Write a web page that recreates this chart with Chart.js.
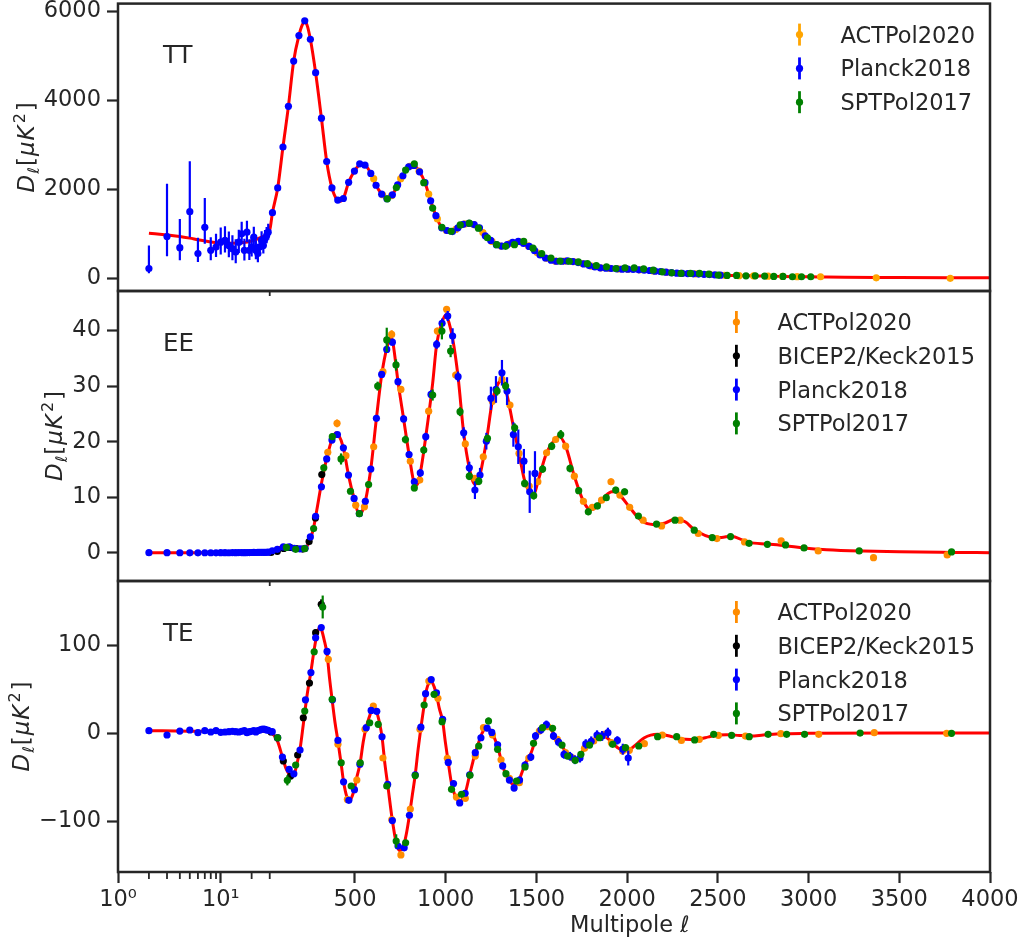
<!DOCTYPE html>
<html>
<head>
<meta charset="utf-8">
<script src="https://cdn.jsdelivr.net/npm/chart.js"></script>
<style>
html, body { margin: 0; padding: 0; background: #fff; }
#wrap { position: relative; width: 1028px; height: 943px; overflow: hidden; }
#wrap canvas { position: absolute; left: 0; }
</style>
</head>
<body>
<div id="wrap">
  <canvas id="cTT" width="1028" height="300" style="top:0px"></canvas>
  <canvas id="cEE" width="1028" height="308" style="top:282px"></canvas>
  <canvas id="cTE" width="1028" height="371" style="top:572px"></canvas>
</div>
<script>
// ---------- axes ----------
const ELL_MIN = 1, ELL_MAX = 4000;
const X_TICKS = [1, 10, 500, 1000, 1500, 2000, 2500, 3000, 3500, 4000];
const X_TICK_LABELS = ['10\u2070', '10\u00b9', '500', '1000', '1500', '2000', '2500', '3000', '3500', '4000'];
const X_MINOR_TICKS = [2, 3, 4, 5, 6, 7, 8, 9, 20, 30];
const TT_Y_TICKS = [0, 2000, 4000, 6000];
const EE_Y_TICKS = [0, 10, 20, 30, 40];
const TE_Y_TICKS = [-100, 0, 100];
const TT_Y_RANGE = [-283, 6175];
const EE_Y_RANGE = [-5.04, 47.1];
const TE_Y_RANGE = [-157.4, 172.9];

const LOW_ELL = [2, 3, 4, 5, 6, 7, 8, 9, 10, 11, 12, 13, 14, 15, 16, 17, 18, 19, 20, 21, 22, 23, 24, 25, 26, 27, 28, 29];

// ---------- TT ----------
const TT_CURVE_ELL = [2, 3, 4, 5, 6, 8, 10, 13, 16, 20, 25, 30, 45, 74, 103, 133, 162, 191, 210, 222, 235, 254, 283, 315, 344, 373, 400, 418, 436, 465, 497, 526, 545, 555, 587, 616, 647, 676, 706, 735, 764, 796, 815, 825, 856, 886, 917, 946, 978, 1007, 1037, 1067, 1097, 1128, 1157, 1186, 1218, 1248, 1279, 1308, 1339, 1369, 1400, 1429, 1460, 1490, 1520, 1550, 1581, 1610, 1641, 1670, 1701, 1730, 1761, 1791, 1822, 1852, 1883, 1912, 1943, 1973, 2003, 2033, 2064, 2094, 2124, 2154, 2194, 2246, 2297, 2349, 2399, 2450, 2502, 2551, 2603, 2655, 2706, 2758, 2808, 2859, 2911, 2961, 3012, 3100, 3200, 3372, 3500, 3781, 4000];
const TT_CURVE_DL = [1016, 975, 942, 905, 870, 820, 800, 790, 800, 840, 930, 1090, 1476, 2033, 2953, 3866, 4884, 5456, 5700, 5760, 5700, 5374, 4623, 3600, 2627, 2033, 1770, 1735, 1795, 2160, 2412, 2560, 2580, 2560, 2360, 2093, 1893, 1790, 1877, 2100, 2307, 2508, 2550, 2545, 2396, 2151, 1744, 1410, 1136, 1065, 1050, 1130, 1210, 1235, 1209, 1136, 957, 853, 757, 726, 757, 808, 831, 786, 719, 623, 526, 459, 408, 385, 385, 392, 378, 356, 326, 289, 259, 237, 230, 223, 215, 207, 207, 200, 193, 185, 178, 163, 150, 126, 112, 105, 96, 90, 80, 67, 62, 59, 55, 52, 48, 44, 40, 37, 35, 31, 27, 22, 19, 15, 12];

const TT_PLANCK_LOW_DL = [223, 942, 690, 1499, 557, 1149, 630, 704, 815, 853, 742, 668, 592, 815, 1002, 630, 1038, 630, 704, 926, 630, 557, 704, 853, 742, 890, 964, 1038];
const TT_PLANCK_LOW_ERR_LO = [105, 445, 282, 573, 187, 370, 222, 223, 280, 272, 265, 258, 250, 243, 236, 230, 224, 218, 212, 206, 200, 195, 190, 185, 180, 176, 172, 168];
const TT_PLANCK_LOW_ERR_HI = [517, 1187, 646, 1136, 356, 655, 296, 298, 330, 320, 310, 300, 290, 280, 270, 262, 255, 248, 240, 233, 226, 220, 214, 208, 203, 198, 193, 188];
const TT_PLANCK_ELL = [45, 74, 103, 133, 162, 191, 223, 254, 283, 315, 344, 373, 405, 436, 465, 497, 526, 555, 587, 616, 647, 676, 706, 735, 764, 796, 825, 856, 886, 917, 946, 978, 1007, 1037, 1067, 1097, 1128, 1157, 1186, 1218, 1248, 1279, 1308, 1339, 1369, 1400, 1429, 1460, 1490, 1520, 1550, 1581, 1610, 1641, 1670, 1701, 1730, 1761, 1791, 1822, 1852, 1883, 1912, 1943, 1973, 2003, 2033, 2064, 2094, 2124, 2154, 2184, 2214, 2244, 2274, 2304, 2334, 2364, 2394, 2424, 2454, 2484, 2514];
const TT_PLANCK_DL = [1476, 2033, 2953, 3866, 4884, 5456, 5790, 5374, 4623, 3600, 2627, 2033, 1759, 1795, 2160, 2412, 2575, 2545, 2360, 2093, 1893, 1790, 1877, 2100, 2307, 2508, 2539, 2396, 2151, 1744, 1410, 1136, 1076, 1053, 1136, 1216, 1238, 1209, 1136, 957, 853, 757, 726, 757, 808, 831, 786, 719, 623, 526, 459, 408, 385, 385, 392, 378, 356, 326, 289, 259, 237, 230, 223, 215, 207, 207, 200, 193, 185, 178, 163, 155, 140, 128, 118, 111, 108, 104, 98, 92, 86, 78, 72];
const TT_ACT_ELL = [603, 652, 702, 752, 802, 853, 906, 954, 1004, 1055, 1105, 1155, 1205, 1255, 1305, 1355, 1405, 1455, 1505, 1555, 1605, 1655, 1705, 1755, 1805, 1855, 1905, 1955, 2005, 2068, 2144, 2218, 2297, 2377, 2457, 2537, 2617, 2697, 2777, 2857, 2937, 3066, 3373, 3781];
const TT_ACT_DL = [2241, 1880, 1860, 2241, 2520, 2410, 1893, 1336, 1076, 1100, 1225, 1210, 1030, 830, 726, 785, 828, 730, 575, 452, 388, 388, 376, 330, 275, 236, 224, 212, 206, 192, 168, 138, 112, 102, 89, 70, 61, 55, 51, 44, 39, 37, 14, 2];
const TT_SPT_ELL = [678, 728, 779, 827, 879, 928, 979, 1030, 1080, 1130, 1180, 1230, 1281, 1330, 1379, 1430, 1481, 1529, 1580, 1630, 1681, 1731, 1781, 1830, 1886, 1938, 1988, 2039, 2091, 2144, 2194, 2246, 2297, 2349, 2399, 2450, 2502, 2551, 2603, 2655, 2706, 2758, 2808, 2859, 2911, 2961, 3012];
const TT_SPT_DL = [1788, 2041, 2434, 2575, 2150, 1581, 1150, 1060, 1202, 1240, 1128, 913, 757, 720, 757, 831, 680, 560, 459, 390, 385, 370, 330, 290, 260, 223, 237, 237, 215, 185, 148, 126, 111, 111, 111, 96, 74, 67, 67, 59, 59, 52, 44, 44, 37, 37, 37];

// ---------- EE ----------
const EE_CURVE_ELL = [2, 5, 10, 20, 30, 50, 80, 110, 140, 170, 200, 225, 250, 270, 290, 315, 344, 373, 395, 410, 436, 464, 495, 524, 540, 557, 587, 618, 647, 675, 700, 710, 737, 768, 798, 827, 840, 860, 890, 928, 950, 980, 1000, 1020, 1038, 1068, 1099, 1130, 1160, 1175, 1189, 1224, 1257, 1290, 1310, 1338, 1373, 1404, 1435, 1465, 1485, 1508, 1556, 1606, 1625, 1661, 1709, 1759, 1790, 1808, 1836, 1885, 1915, 1937, 1960, 2014, 2062, 2100, 2160, 2210, 2265, 2320, 2370, 2470, 2520, 2570, 2672, 2773, 2873, 2975, 3100, 3300, 3500, 3800, 4000];
const EE_CURVE_DL = [0.05, 0.04, 0.03, 0.05, 0.15, 0.55, 0.95, 1.1, 1.05, 0.8, 0.7, 0.85, 2.2, 4.3, 7.8, 12.5, 17.0, 20.4, 21.6, 21.2, 18.9, 14.0, 9.8, 7.0, 7.5, 9.3, 15.1, 24.2, 32.0, 36.8, 38.8, 37.6, 30.8, 24.1, 17.7, 12.5, 12.2, 14.4, 20.9, 30.5, 37.5, 41.5, 42.8, 41.2, 38.6, 31.7, 21.6, 15.3, 12.4, 12.5, 14.0, 20.1, 27.3, 30.5, 31.0, 28.4, 22.7, 17.9, 13.0, 10.8, 10.5, 12.8, 18.0, 20.6, 21.0, 19.2, 13.8, 9.3, 7.9, 7.8, 8.5, 10.4, 11.0, 11.0, 10.4, 8.2, 6.3, 5.4, 5.1, 5.4, 6.1, 5.6, 4.2, 2.8, 2.8, 3.0, 1.9, 1.6, 1.3, 0.9, 0.6, 0.35, 0.2, 0.1, 0.05];

const EE_PLANCK_LOW_DL = [0.06, 0.05, 0.04, 0.03, 0.03, 0.04, 0.04, 0.03, 0.05, 0.05, 0.04, 0.06, 0.05, 0.07, 0.06, 0.05, 0.06, 0.07, 0.08, 0.09, 0.08, 0.10, 0.10, 0.11, 0.12, 0.12, 0.13, 0.14];
const EE_PLANCK_ELL = [44, 72, 105, 137, 165, 197, 225, 254, 283, 315, 344, 373, 403, 436, 464, 495, 524, 557, 587, 618, 647, 675, 706, 737, 768, 798, 827, 860, 890, 919, 950, 980, 1011, 1038, 1068, 1099, 1130, 1161, 1189, 1224, 1249, 1277, 1310, 1338, 1373, 1400, 1431, 1463, 1492];
const EE_PLANCK_DL = [0.40, 0.66, 1.08, 1.10, 0.85, 0.75, 0.85, 2.88, 6.6, 11.9, 16.9, 20.3, 21.3, 18.9, 14.0, 9.8, 7.07, 9.3, 15.1, 24.2, 32.1, 36.6, 37.9, 30.8, 24.1, 17.7, 12.8, 14.4, 20.9, 28.5, 37.5, 41.3, 42.6, 39.0, 31.7, 21.6, 15.3, 11.3, 14.0, 20.1, 27.8, 29.4, 32.4, 29.1, 21.3, 19.1, 16.5, 11.0, 14.3];
const EE_PLANCK_ERR = [0.05, 0.05, 0.08, 0.1, 0.1, 0.12, 0.15, 0.18, 0.2, 0.25, 0.3, 0.3, 0.35, 0.35, 0.35, 0.35, 0.4, 0.4, 0.45, 0.5, 0.5, 0.55, 0.6, 0.6, 0.6, 0.6, 0.65, 0.7, 0.7, 0.75, 0.8, 0.85, 0.9, 1.4, 0.9, 1.0, 1.1, 1.6, 1.3, 1.5, 2.1, 2.4, 2.3, 2.5, 2.2, 3.1, 2.2, 3.8, 4.0];
const EE_ACT_ELL = [350, 401, 450, 504, 552, 603, 654, 702, 753, 805, 857, 906, 954, 1005, 1055, 1108, 1160, 1207, 1257, 1310, 1354, 1404, 1460, 1508, 1556, 1606, 1661, 1709, 1759, 1808, 1859, 1911, 1960, 2014, 2088, 2190, 2292, 2392, 2495, 2647, 2849, 3053, 3358, 3764];
const EE_ACT_DL = [18.1, 23.3, 17.5, 8.6, 8.3, 19.1, 32.6, 39.3, 29.4, 16.5, 13.1, 25.5, 39.9, 43.8, 32.0, 19.6, 13.4, 17.3, 27.3, 31.2, 26.6, 17.9, 12.0, 12.8, 18.0, 20.4, 19.2, 13.8, 9.3, 8.2, 9.5, 12.8, 10.4, 8.2, 5.9, 4.86, 5.9, 3.5, 2.58, 1.98, 2.16, 0.36, -0.84, -0.36];
const EE_ACT_ERR = [0.5, 0.7, 0.5, 0.4, 0.4, 0.5, 0.6, 0.75, 0.6, 0.5, 0.5, 0.6, 0.6, 0.6, 0.6, 0.55, 0.5, 0.5, 0.6, 0.6, 0.6, 0.55, 0.5, 0.5, 0.5, 0.55, 0.55, 0.5, 0.5, 0.5, 0.5, 0.6, 0.5, 0.5, 0.45, 0.45, 0.45, 0.4, 0.4, 0.35, 0.35, 0.3, 0.3, 0.3];
const EE_BK_ELL = [37, 72, 107, 142, 177, 212, 247, 282, 317];
const EE_BK_DL = [0.1, 0.3, 0.8, 1.0, 0.8, 0.7, 2.04, 6.3, 14.1];
const EE_BK_ERR = [0.1, 0.1, 0.15, 0.15, 0.15, 0.2, 0.25, 0.4, 0.6];
const EE_SPT_ELL = [122, 173, 223, 272, 328, 375, 423, 475, 524, 575, 625, 675, 726, 778, 827, 879, 928, 979, 1027, 1079, 1130, 1182, 1230, 1283, 1330, 1380, 1435, 1485, 1534, 1584, 1634, 1685, 1733, 1786, 1836, 1885, 1937, 1986, 2062, 2162, 2264, 2370, 2469, 2570, 2672, 2773, 2873, 2975, 3279, 3788];
const EE_SPT_DL = [1.0, 0.66, 0.78, 4.38, 15.3, 20.9, 16.9, 11.1, 7.07, 12.3, 30.0, 38.3, 33.8, 20.4, 11.7, 18.5, 28.4, 39.9, 36.3, 25.4, 13.8, 12.9, 20.6, 29.1, 30.0, 22.5, 12.5, 10.3, 15.1, 19.2, 21.3, 15.2, 11.2, 7.4, 8.45, 9.95, 11.3, 11.0, 6.65, 5.2, 5.9, 4.1, 2.76, 2.94, 1.74, 1.56, 1.44, 0.9, 0.36, 0.18];
const EE_SPT_ERR = [0.3, 0.3, 0.3, 0.4, 0.6, 0.6, 1.0, 0.5, 0.5, 0.6, 0.8, 2.2, 1.0, 0.7, 0.6, 0.7, 1.0, 1.5, 1.1, 0.8, 0.7, 0.7, 0.7, 0.8, 0.8, 0.8, 0.7, 0.7, 0.7, 0.7, 0.8, 0.7, 0.6, 0.6, 0.6, 0.6, 0.6, 0.6, 0.5, 0.5, 0.5, 0.5, 0.5, 0.5, 0.5, 0.5, 0.5, 0.5, 0.5, 0.5];

// ---------- TE ----------
const TE_CURVE_ELL = [2, 5, 10, 20, 30, 45, 60, 75, 100, 120, 140, 155, 170, 185, 197, 215, 235, 257, 275, 290, 305, 315, 330, 346, 360, 374, 390, 406, 424, 437, 455, 470, 485, 497, 510, 529, 545, 562, 581, 595, 605, 620, 635, 649, 665, 680, 706, 727, 745, 755, 771, 785, 800, 816, 832, 848, 863, 881, 895, 910, 920, 936, 949, 965, 983, 998, 1014, 1032, 1050, 1065, 1080, 1095, 1110, 1132, 1150, 1163, 1182, 1200, 1215, 1230, 1245, 1254, 1270, 1286, 1314, 1332, 1351, 1370, 1385, 1406, 1437, 1469, 1484, 1495, 1516, 1534, 1555, 1575, 1594, 1615, 1641, 1665, 1690, 1714, 1735, 1755, 1772, 1795, 1816, 1840, 1860, 1880, 1900, 1920, 1946, 1975, 2000, 2030, 2064, 2095, 2130, 2168, 2200, 2250, 2300, 2350, 2400, 2450, 2500, 2550, 2620, 2680, 2750, 2850, 3000, 3500, 4000];
const TE_CURVE_DL = [3.0, 2.5, 2.0, 2.0, 2.0, 0, -4, -10, -27, -40, -47, -49, -43, -30, -18, 10, 42, 70, 95, 112, 120, 118, 106, 90, 62, 38, 12, -9, -35, -55, -72, -77, -71, -63, -50, -33, -10, 7, 20, 28, 29, 24, 12, -4, -35, -58, -99, -124, -133, -132, -125, -112, -93, -70, -47, -18, 6, 32, 50, 58, 59, 53, 44, 28, 14, -10, -33, -57, -70, -76, -77, -73, -66, -47, -32, -22, -10, 0, 5, 6, 4, 1, -6, -15, -37, -47, -53, -58, -58, -52, -35, -23, -14, -5, 2, 6, 8, 6, 0, -6, -14, -23, -28, -30, -27, -20, -13, -10, -7, -4, -3, -4, -7, -11, -16, -19, -19, -16, -10, -5, -2, -1, -1.5, -4, -6.5, -7, -6.5, -4, -2, -1.5, -2.5, -3, -2, -0.5, 0, 0.5, 0.5];

const TE_PLANCK_LOW_DL = [3.0, -1.9, 2.6, 3.8, 0.7, 3.0, 1.5, 3.0, 1.1, 1.5, 1.9, 2.3, 1.9, 1.5, 2.3, 3.0, 0.7, 1.9, 2.3, 3.0, 1.5, 3.0, 3.8, 4.5, 4.9, 4.5, 3.8, 3.4];
const TE_PLANCK_ELL = [44, 74, 100, 137, 163, 197, 227, 257, 283, 314, 346, 376, 406, 437, 466, 497, 527, 562, 589, 620, 649, 680, 706, 737, 771, 800, 832, 863, 889, 920, 949, 983, 1014, 1043, 1077, 1107, 1132, 1163, 1194, 1228, 1254, 1286, 1314, 1351, 1377, 1407, 1437, 1469, 1495, 1525, 1555, 1594, 1622, 1652, 1685, 1712, 1740, 1772, 1802, 1834, 1862, 1894, 1946, 1976, 2006];
const TE_PLANCK_DL = [1.9, -5, -27, -41, -46, -19, 38, 69, 108.5, 120, 93, 38, -8, -55, -76, -64, -35, 6.4, 26, 25, -4, -58, -99, -128, -130, -93, -47, 7, 45, 61, 46, 16, -33, -57, -79, -68, -47, -22, -5, 6, 1, -13, -37, -53, -62, -53, -36, -27, -3, 4, 10, -3, -10, -24, -26, -30, -28, -12, -9, -2, -3, 0.7, -8, -18, -28];
const TE_PLANCK_ERR = [0.6, 0.9, 1.1, 1.2, 1.2, 1.3, 1.4, 1.5, 1.6, 1.7, 1.7, 1.8, 1.8, 1.8, 1.9, 1.9, 2.0, 2.0, 2.1, 2.1, 2.2, 2.2, 2.3, 2.4, 2.4, 2.5, 2.5, 2.6, 2.6, 2.7, 2.8, 2.8, 2.9, 3.0, 3.0, 3.1, 3.2, 3.3, 3.4, 3.5, 3.5, 3.6, 3.7, 3.8, 3.9, 4.0, 4.1, 4.2, 4.3, 4.4, 4.5, 4.6, 4.7, 4.8, 4.9, 5.0, 5.1, 5.3, 5.5, 5.4, 5.6, 5.7, 4.7, 6.2, 8.5];
const TE_ACT_ELL = [353, 406, 458, 510, 555, 601, 654, 703, 753, 805, 858, 907, 957, 1009, 1059, 1108, 1163, 1208, 1258, 1305, 1351, 1406, 1458, 1516, 1563, 1615, 1660, 1698, 1765, 1816, 1873, 1913, 1975, 2012, 2095, 2194, 2299, 2398, 2503, 2652, 2847, 3056, 3362, 3761];
const TE_ACT_DL = [84, -12.5, -75, -53, 4.5, 31, -28, -98, -138, -86, 4.5, 59.4, 39.7, -28.4, -72.3, -73.8, -25.8, 6.4, -2, -30, -51, -56, -28, 2.6, 7.5, -6.8, -22, -27.7, -17, -8.7, -1.2, -10.6, -20.1, -19.3, -11.8, -1.9, -8, -6.8, -2.3, -3.1, -0.4, -1.1, 0.7, 0];
const TE_ACT_ERR = [2, 2, 2.2, 2.2, 2.2, 2.5, 2.5, 3, 3.5, 2.8, 2.5, 2.5, 2.5, 2.5, 2.5, 2.5, 2.5, 2.5, 2.5, 2.5, 2.5, 2.5, 2.5, 2.5, 2.5, 2.5, 2.5, 2.5, 2.5, 2.5, 2.5, 2.5, 2.5, 2.5, 2.2, 2.2, 2.2, 2.2, 2.0, 2.0, 1.8, 1.8, 1.5, 1.5];
const TE_BK_ELL = [37, 72, 105, 145, 184, 215, 249, 283, 314];
const TE_BK_DL = [1.5, -5, -31.4, -48.5, -24.6, 17.7, 57.1, 114.2, 146.4];
const TE_BK_ERR = [0.8, 1.2, 1.8, 2.2, 2.5, 3, 3.5, 4, 5.7];
const TE_SPT_ELL = [74, 127, 173, 223, 275, 322, 374, 424, 479, 529, 581, 628, 675, 727, 779, 832, 881, 936, 980, 1032, 1087, 1134, 1182, 1236, 1286, 1332, 1390, 1437, 1484, 1534, 1589, 1641, 1672, 1714, 1745, 1793, 1847, 1920, 1991, 2064, 2168, 2273, 2372, 2477, 2576, 2673, 2777, 2879, 2978, 3284, 3788];
const TE_SPT_DL = [-5, -53.4, -36, 25.3, 92.6, 143.4, 38.6, -33.4, -59.8, -33.4, 12, 10.2, -59.8, -122.2, -124.2, -48, 32.1, 44.3, 13.2, -63.6, -69.2, -47.7, -14.4, 14, -18.2, -45.8, -54.1, -38.2, -11.4, 6.4, 5.7, -13.3, -25.8, -30.6, -23.8, -13.3, -5, -12.5, -16.3, -14.4, -3.8, -3.8, -7.5, -1.1, -2.3, -3.8, -1.1, -1.1, -1.1, 0.3, 0];
const TE_SPT_ERR = [1.5, 5.7, 2.5, 2.5, 3, 13, 3, 3, 3, 3, 3, 3, 3.5, 7.6, 3.5, 3, 3, 3, 3, 3, 3, 3, 3, 4, 3, 3, 3, 3, 2.8, 2.8, 2.8, 2.8, 2.8, 2.8, 2.8, 2.8, 2.5, 2.5, 2.5, 2.5, 2.2, 2.2, 2, 2, 2, 2, 1.8, 1.8, 1.8, 1.5, 1.5];

// ---------- style ----------
const INK = '#262626';
const FONT = '"DejaVu Sans", sans-serif';
const RED = '#ff0000', BLUE = '#0000ff', GREEN = '#008000', BLACK = '#000000';

// multipole axis: log for ell <= 30, linear above
const LOG_SPLIT = 30;
const LOG_FRAC = 0.174;
class SplitLogLinearScale extends Chart.LinearScale {
    static id = 'splitlog';
    static defaults = {};
    determineDataLimits() { this.min = ELL_MIN; this.max = ELL_MAX; }
    buildTicks() { return X_TICKS.map(v => ({ value: v })); }
    toDecimal(v) {
        if (v <= LOG_SPLIT) return Math.log10(Math.max(v, ELL_MIN)) / Math.log10(LOG_SPLIT) * LOG_FRAC;
        return LOG_FRAC + (v - LOG_SPLIT) / (this.max - LOG_SPLIT) * (1 - LOG_FRAC);
    }
    getPixelForValue(v) { return this.getPixelForDecimal(this.toDecimal(v)); }
    getValueForPixel(px) {
        const d = this.getDecimalForPixel(px);
        if (d <= LOG_FRAC) return Math.pow(LOG_SPLIT, d / LOG_FRAC);
        return LOG_SPLIT + (d - LOG_FRAC) / (1 - LOG_FRAC) * (this.max - LOG_SPLIT);
    }
}
Chart.register(SplitLogLinearScale);

const pts = (ell, d) => ell.map((l, i) => ({ x: l, y: d[i] }));
const fmt = v => (v < 0 ? '\u2212' + (-v) : String(v));

function drawYTitle(ctx, baseX, cy) {
    const parts = [
        { t: 'D', f: 'italic 23px ' + FONT, dy: 0, gap: 0 },
        { t: '\u2113', f: 'italic 16px ' + FONT, dy: 5, gap: 1 },
        { t: '[', f: '23px ' + FONT, dy: 0, gap: 1 },
        { t: '\u03bc', f: 'italic 23px ' + FONT, dy: 0, gap: 1 },
        { t: 'K', f: 'italic 23px ' + FONT, dy: 0, gap: 1 },
        { t: '2', f: '16px ' + FONT, dy: -9, gap: 2 },
        { t: ']', f: '23px ' + FONT, dy: 0, gap: 2 },
    ];
    let w = 0;
    parts.forEach(p => { ctx.font = p.f; p.w = ctx.measureText(p.t).width; w += p.w + p.gap; });
    ctx.save();
    ctx.translate(baseX, cy);
    ctx.rotate(-Math.PI / 2);
    ctx.fillStyle = INK;
    ctx.textBaseline = 'alphabetic';
    let x = -w / 2;
    parts.forEach(p => { x += p.gap; ctx.font = p.f; ctx.fillText(p.t, x, p.dy); x += p.w; });
    ctx.restore();
}

function panelPlugin(p) {
    return {
        id: 'panel' + p.name,
        beforeDatasetDraw(chart, args) {
            const ds = chart.data.datasets[args.index];
            if (!ds.errLo) return;
            const { ctx, chartArea: a } = chart;
            const ys = chart.scales.y;
            ctx.save();
            ctx.beginPath();
            ctx.rect(a.left, a.top, a.width, a.height);
            ctx.clip();
            ctx.strokeStyle = ds.borderColor;
            ctx.lineWidth = 2.2;
            args.meta.data.forEach((el, i) => {
                const lo = ds.errLo[i], hi = ds.errHi[i];
                if (lo === undefined) return;
                const v = ds.data[i].y;
                ctx.beginPath();
                ctx.moveTo(el.x, ys.getPixelForValue(v + hi));
                ctx.lineTo(el.x, ys.getPixelForValue(v - lo));
                ctx.stroke();
            });
            ctx.restore();
        },
        afterDraw(chart) {
            const { ctx, chartArea: a } = chart;
            const xs = chart.scales.x, ys = chart.scales.y;
            ctx.save();
            // frame
            ctx.strokeStyle = INK;
            ctx.lineWidth = 2.5;
            ctx.strokeRect(a.left, a.top, a.width, a.height);
            // minor ticks of the log part
            ctx.lineWidth = 1.8;
            const minors = p.bottom ? X_MINOR_TICKS : [LOG_SPLIT];
            minors.forEach(v => {
                const x = xs.getPixelForValue(v);
                ctx.beginPath();
                ctx.moveTo(x, a.bottom);
                ctx.lineTo(x, a.bottom + (p.bottom ? 7 : 5));
                ctx.stroke();
            });
            // panel name
            ctx.fillStyle = INK;
            ctx.font = '24.5px ' + FONT;
            ctx.textBaseline = 'alphabetic';
            ctx.fillText(p.name, 163, a.top + 59.5);
            // legend
            ctx.font = '22.5px ' + FONT;
            const entries = chart.data.datasets.filter(d => d.type === 'scatter');
            const maxW = Math.max(...entries.map(d => ctx.measureText(d.label).width));
            const textX = 975 - maxW, symX = textX - 41;
            entries.forEach((d, i) => {
                const cy = a.top + 31 + i * 33.8;
                ctx.strokeStyle = d.borderColor;
                ctx.lineWidth = 2.8;
                ctx.beginPath();
                ctx.moveTo(symX, cy - 11);
                ctx.lineTo(symX, cy + 11);
                ctx.stroke();
                ctx.fillStyle = d.backgroundColor;
                ctx.beginPath();
                ctx.arc(symX, cy, 3.6, 0, Math.PI * 2);
                ctx.fill();
                ctx.fillStyle = INK;
                ctx.fillText(d.label, textX, cy + 8);
            });
            // y title placed left of the widest tick label
            ctx.font = '22.5px ' + FONT;
            const tickW = Math.max(...ys.ticks.map(t => ctx.measureText(t.label).width));
            const tickLeft = ys.right - 11 - 6 - tickW;
            drawYTitle(ctx, tickLeft - 10, (a.top + a.bottom) / 2);
            // x title centred on the linear part
            if (p.bottom) {
                const cx = (xs.getPixelForValue(LOG_SPLIT) + a.right) / 2;
                ctx.font = '22.5px ' + FONT;
                const w1 = ctx.measureText('Multipole ').width;
                ctx.font = 'italic 22.5px ' + FONT;
                const w2 = ctx.measureText('\u2113').width;
                const x0 = cx - (w1 + w2) / 2;
                ctx.fillStyle = INK;
                ctx.font = '22.5px ' + FONT;
                ctx.fillText('Multipole ', x0, a.bottom + 60);
                ctx.font = 'italic 22.5px ' + FONT;
                ctx.fillText('\u2113', x0 + w1, a.bottom + 60);
            }
            ctx.restore();
        }
    };
}

function series(label, color, ell, dl, errLo, errHi, order) {
    return {
        type: 'scatter', label, data: pts(ell, dl), errLo, errHi,
        backgroundColor: color, borderColor: color,
        pointRadius: 3.6, pointBorderWidth: 0, pointHoverRadius: 3.6, order
    };
}

function makePanel(id, p) {
    const datasets = [{
        type: 'line', label: 'theory', data: pts(p.curveEll, p.curveDl),
        borderColor: RED, borderWidth: 3, pointRadius: 0,
        cubicInterpolationMode: 'monotone', fill: false, order: 9
    }].concat(p.series);
    new Chart(document.getElementById(id), {
        type: 'scatter',
        data: { datasets },
        options: {
            responsive: false, animation: false, events: [], devicePixelRatio: 1,
            layout: { padding: { left: 0, right: 38, top: p.padTop, bottom: p.padBottom } },
            plugins: { legend: { display: false }, tooltip: { enabled: false } },
            scales: {
                x: {
                    type: 'splitlog', display: p.bottom,
                    afterFit: s => {
                        if (p.bottom) s.height = 71;
                        s.paddingLeft = 0; s.paddingRight = 0;
                    },
                    ticks: {
                        autoSkip: false, maxRotation: 0, minRotation: 0, padding: 4,
                        color: INK, font: { family: FONT, size: 22.5 },
                        callback: (v, i) => X_TICK_LABELS[i]
                    },
                    grid: { display: true, drawOnChartArea: false, drawTicks: true, tickLength: 11, tickWidth: 2.2, tickColor: INK },
                    border: { display: false }
                },
                y: {
                    min: p.yRange[0], max: p.yRange[1],
                    afterFit: s => { s.width = 118; s.paddingTop = 0; s.paddingBottom = 0; },
                    afterBuildTicks: s => { s.ticks = p.yTicks.map(v => ({ value: v })); },
                    ticks: { padding: 6, color: INK, font: { family: FONT, size: 22.5 }, callback: v => fmt(v) },
                    grid: { display: true, drawOnChartArea: false, drawTicks: true, tickLength: 11, tickWidth: 2.2, tickColor: INK },
                    border: { display: false }
                }
            }
        },
        plugins: [panelPlugin(p)]
    });
}

makePanel('cTT', {
    name: 'TT', bottom: false, padTop: 1, padBottom: 9,
    yRange: TT_Y_RANGE, yTicks: TT_Y_TICKS,
    curveEll: TT_CURVE_ELL, curveDl: TT_CURVE_DL,
    series: [
        series('ACTPol2020', '#ffa500', TT_ACT_ELL, TT_ACT_DL, undefined, undefined, 8),
        series('Planck2018', BLUE, LOW_ELL.concat(TT_PLANCK_ELL), TT_PLANCK_LOW_DL.concat(TT_PLANCK_DL),
            TT_PLANCK_LOW_ERR_LO, TT_PLANCK_LOW_ERR_HI, 6),
        series('SPTPol2017', GREEN, TT_SPT_ELL, TT_SPT_DL, undefined, undefined, 5)
    ]
});

makePanel('cEE', {
    name: 'EE', bottom: false, padTop: 9, padBottom: 9,
    yRange: EE_Y_RANGE, yTicks: EE_Y_TICKS,
    curveEll: EE_CURVE_ELL, curveDl: EE_CURVE_DL,
    series: [
        series('ACTPol2020', '#ff8c00', EE_ACT_ELL, EE_ACT_DL, EE_ACT_ERR, EE_ACT_ERR, 8),
        series('BICEP2/Keck2015', BLACK, EE_BK_ELL, EE_BK_DL, EE_BK_ERR, EE_BK_ERR, 7),
        series('Planck2018', BLUE, LOW_ELL.concat(EE_PLANCK_ELL), EE_PLANCK_LOW_DL.concat(EE_PLANCK_DL),
            LOW_ELL.map(() => 0).concat(EE_PLANCK_ERR), LOW_ELL.map(() => 0).concat(EE_PLANCK_ERR), 6),
        series('SPTPol2017', GREEN, EE_SPT_ELL, EE_SPT_DL, EE_SPT_ERR, EE_SPT_ERR, 5)
    ]
});

makePanel('cTE', {
    name: 'TE', bottom: true, padTop: 9, padBottom: 0,
    yRange: TE_Y_RANGE, yTicks: TE_Y_TICKS,
    curveEll: TE_CURVE_ELL, curveDl: TE_CURVE_DL,
    series: [
        series('ACTPol2020', '#ff8c00', TE_ACT_ELL, TE_ACT_DL, TE_ACT_ERR, TE_ACT_ERR, 8),
        series('BICEP2/Keck2015', BLACK, TE_BK_ELL, TE_BK_DL, TE_BK_ERR, TE_BK_ERR, 7),
        series('Planck2018', BLUE, LOW_ELL.concat(TE_PLANCK_ELL), TE_PLANCK_LOW_DL.concat(TE_PLANCK_DL),
            LOW_ELL.map(() => 0).concat(TE_PLANCK_ERR), LOW_ELL.map(() => 0).concat(TE_PLANCK_ERR), 6),
        series('SPTPol2017', GREEN, TE_SPT_ELL, TE_SPT_DL, TE_SPT_ERR, TE_SPT_ERR, 5)
    ]
});
</script>
</body>
</html>
